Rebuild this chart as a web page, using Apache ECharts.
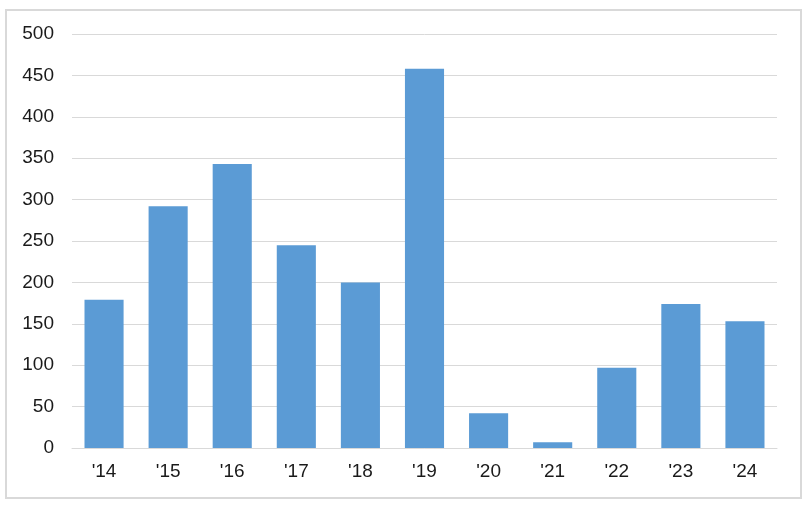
<!DOCTYPE html>
<html>
<head>
<meta charset="utf-8">
<script src="https://cdn.jsdelivr.net/npm/echarts@6/dist/echarts.min.js"></script>
<style>
  html, body { margin: 0; padding: 0; background: #fff; }
  #chart { width: 809px; height: 505px; }
</style>
</head>
<body>
<div id="chart"></div>
<script>
  // years on the x axis
  var years = ["'14", "'15", "'16", "'17", "'18", "'19", "'20", "'21", "'22", "'23", "'24"];
  // bar heights
  var values = [179, 292, 343, 245, 200, 458, 42, 7, 97, 174, 153];

  var chart = echarts.init(document.getElementById('chart'));
  chart.setOption({
    animation: false,
    graphic: [{
      type: 'rect',
      shape: { x: 6, y: 10, width: 795, height: 488 },
      style: { fill: 'none', stroke: '#d9d9d9', lineWidth: 2 },
      silent: true
    }],
    grid: {
      left: 72,
      right: 32,
      top: 34,
      bottom: 57
    },
    xAxis: {
      type: 'category',
      data: years,
      axisLine: { lineStyle: { color: '#d9d9d9', width: 1 } },
      axisTick: { show: false },
      axisLabel: {
        color: '#1a1a1a',
        fontFamily: 'Liberation Sans, Arial, sans-serif',
        fontSize: 19,
        margin: 14
      }
    },
    yAxis: {
      type: 'value',
      min: 0,
      max: 500,
      interval: 50,
      axisLine: { show: false },
      axisTick: { show: false },
      splitLine: { lineStyle: { color: '#d9d9d9', width: 1 } },
      axisLabel: {
        color: '#1a1a1a',
        fontFamily: 'Liberation Sans, Arial, sans-serif',
        fontSize: 19,
        margin: 18
      }
    },
    series: [{
      type: 'bar',
      data: values,
      barWidth: '61%',
      itemStyle: { color: '#5B9BD5' }
    }]
  });
</script>
</body>
</html>
